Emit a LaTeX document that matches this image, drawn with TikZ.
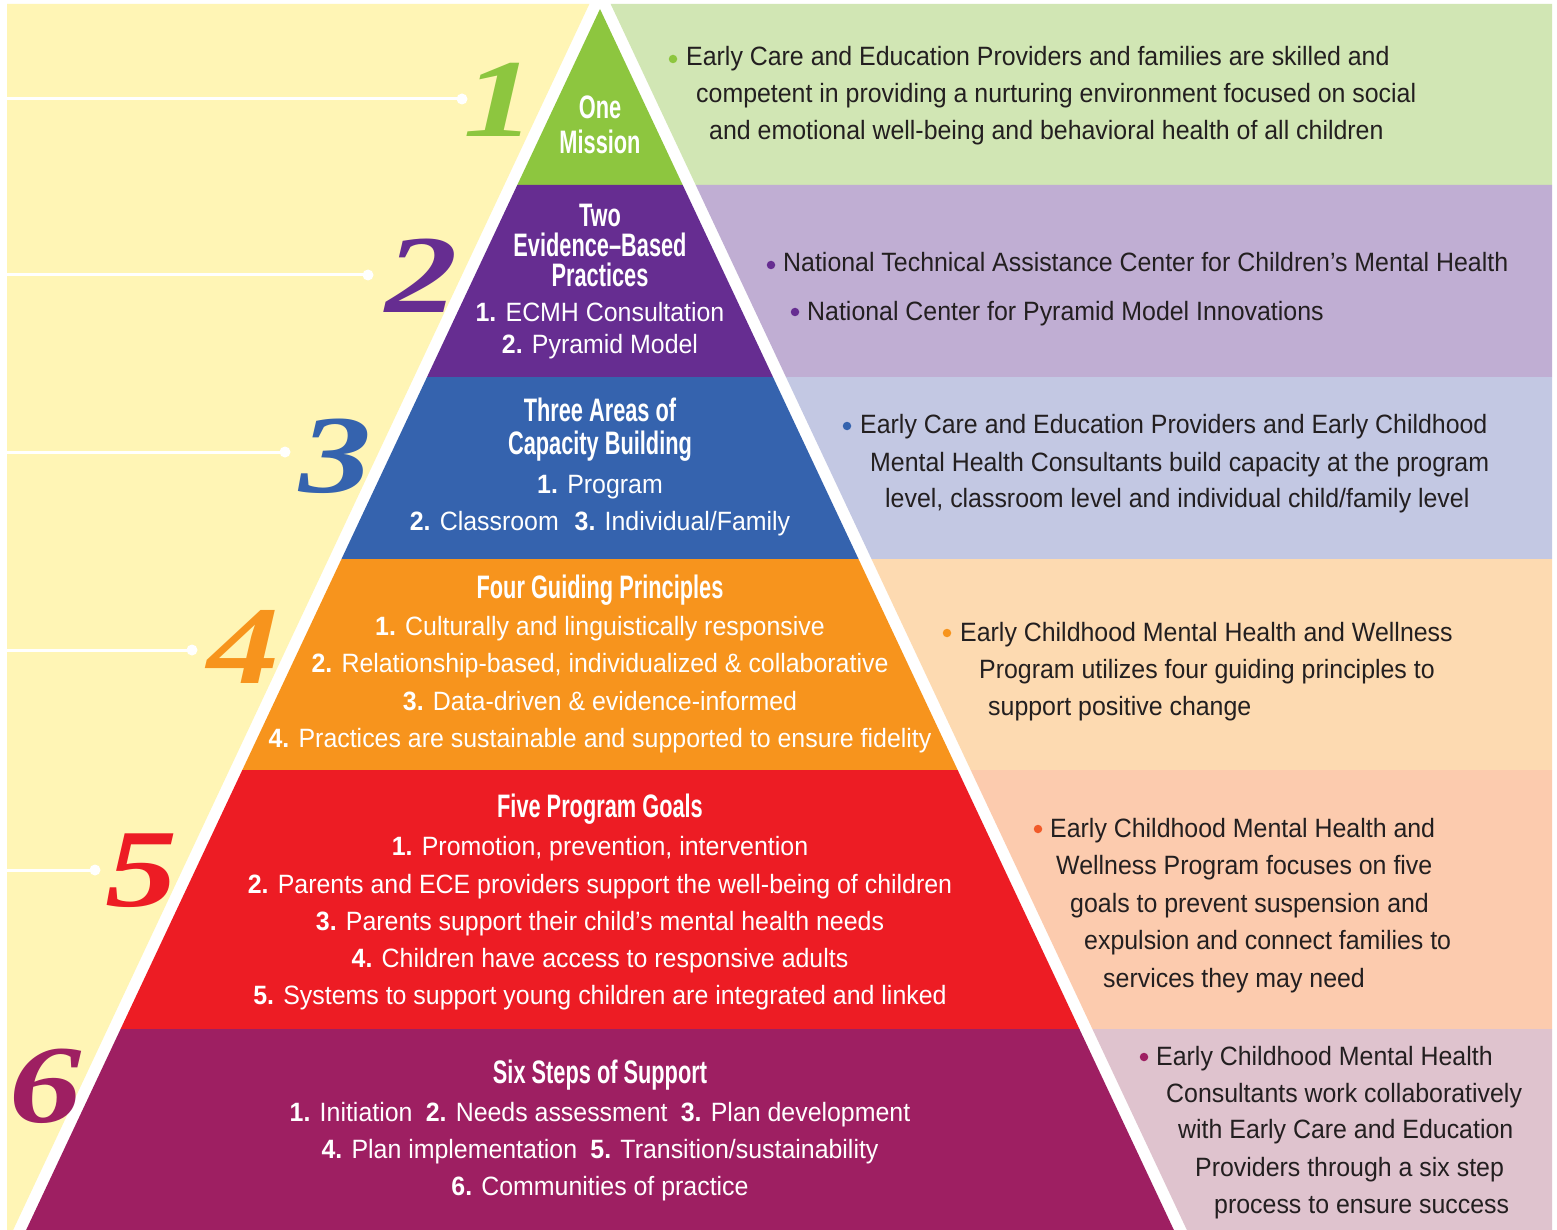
\documentclass[tikz,border=0pt]{standalone}
\usepackage{fontspec}
\setmainfont{Liberation Sans}
\newfontfamily\bodyf{Liberation Sans}[FakeStretch=0.94]
\newfontfamily\headf{Liberation Sans}[FakeStretch=0.67]
\newfontfamily\numf{Liberation Serif}
\definecolor{cgreen}{HTML}{8DC63F}
\definecolor{lgreen}{HTML}{D1E6B4}
\definecolor{cpurple}{HTML}{662D91}
\definecolor{lpurple}{HTML}{C0AED3}
\definecolor{cblue}{HTML}{3563AE}
\definecolor{lblue}{HTML}{C3C8E3}
\definecolor{corange}{HTML}{F7941D}
\definecolor{lorange}{HTML}{FDDAB1}
\definecolor{cred}{HTML}{ED1C24}
\definecolor{lred}{HTML}{FCCBAE}
\definecolor{cmag}{HTML}{9E1F62}
\definecolor{lmag}{HTML}{DFC3CE}
\definecolor{cyellow}{HTML}{FFF5B5}
\definecolor{txt}{HTML}{231F20}
\definecolor{cbul}{HTML}{F15A29}
\begin{document}
\begin{tikzpicture}[x=1pt,y=-1pt,
  body/.style={font=\bodyf\fontsize{26.5}{30}\selectfont, inner sep=0pt, anchor=base},
  wbody/.style={body, text=white},
  head/.style={font=\headf\bfseries\fontsize{32.5}{34}\selectfont, text=white, inner sep=0pt, anchor=base},
  rtext/.style={body, anchor=base west, text=txt},
  numeral/.style={font=\numf\bfseries\itshape\fontsize{111}{111}\selectfont, inner sep=0pt},
  wline/.style={white, line width=3pt},
  wdot/.style={circle, fill=white, inner sep=0pt, minimum size=11pt},
  bullet/.style={circle, inner sep=0pt, minimum size=8.5pt}]
\useasboundingbox (0,0) rectangle (1557,1230);
\fill[white] (0,0) rectangle (1557,1230);
\foreach \y in {4,9,185,377,559,770,1029,1230}{
  \coordinate (L\y) at ({600-0.47*(\y-9)},\y);
  \coordinate (R\y) at ({600+0.47*(\y-9)},\y);
  \coordinate (YL\y) at ({587-0.47*(\y-9)},\y);
  \coordinate (BR\y) at ({613+0.47*(\y-9)},\y);
}
% yellow left panel
\fill[cyellow] (7,4) -- (YL4) -- (YL1230) -- (7,1230) -- cycle;
% right boxes
\fill[lgreen] (BR4) -- (1552,4) -- (1552,185) -- (BR185) -- cycle;
\fill[lpurple] (BR185) -- (1552,185) -- (1552,377) -- (BR377) -- cycle;
\fill[lblue] (BR377) -- (1552,377) -- (1552,559) -- (BR559) -- cycle;
\fill[lorange] (BR559) -- (1552,559) -- (1552,770) -- (BR770) -- cycle;
\fill[lred] (BR770) -- (1552,770) -- (1552,1029) -- (BR1029) -- cycle;
\fill[lmag] (BR1029) -- (1552,1029) -- (1552,1230) -- (BR1230) -- cycle;
% pyramid tiers
\fill[cgreen] (600,9) -- (R185) -- (L185) -- cycle;
\fill[cpurple] (L185) -- (R185) -- (R377) -- (L377) -- cycle;
\fill[cblue] (L377) -- (R377) -- (R559) -- (L559) -- cycle;
\fill[corange] (L559) -- (R559) -- (R770) -- (L770) -- cycle;
\fill[cred] (L770) -- (R770) -- (R1029) -- (L1029) -- cycle;
\fill[cmag] (L1029) -- (R1029) -- (R1230) -- (L1230) -- cycle;
% leader lines
\coordinate (s1) at (7,99);  \node[wdot] (d1) at (462,99) {};
\coordinate (s2) at (7,275); \node[wdot] (d2) at (368,275) {};
\coordinate (s3) at (7,452); \node[wdot] (d3) at (285,452) {};
\coordinate (s4) at (7,650); \node[wdot] (d4) at (192,650) {};
\coordinate (s5) at (7,870); \node[wdot] (d5) at (95,870) {};
\foreach \i in {1,...,5}{\draw[wline] (s\i) -- (d\i.center);}
% numerals
\node[numeral, text=cgreen] (n1) at (500,100) {\scalebox{1.3}[1]{1}};
\node[numeral, text=cpurple] (n2) at (422,276) {\scalebox{1.3}[1]{2}};
\node[numeral, text=cblue] (n3) at (336,456) {\scalebox{1.3}[1]{3}};
\node[numeral, text=corange] (n4) at (244,647) {\scalebox{1.3}[1]{4}};
\node[numeral, text=cred] (n5) at (142,871) {\scalebox{1.3}[1]{5}};
\node[numeral, text=cmag] (n6) at (46,1086) {\scalebox{1.3}[1]{6}};
% tier 1
\node[head] (h1a) at (600,119) {One};
\node[head] (h1b) at (600,154) {Mission};
% tier 2
\node[head] (h2a) at (600,227) {Two};
\node[head] (h2b) at (600,257) {Evidence–Based};
\node[head] (h2c) at (600,287) {Practices};
\node[wbody] (p2a) at (600,322) {\textbf{1.} ECMH Consultation};
\node[wbody] (p2b) at (600,353) {\textbf{2.} Pyramid Model};
% tier 3
\node[head] (h3a) at (600,421) {Three Areas of};
\node[head] (h3b) at (600,454) {Capacity Building};
\node[wbody] (p3a) at (600,493) {\textbf{1.} Program};
\node[wbody] (p3b) at (600,530) {\textbf{2.} Classroom\hspace{0.6em}\textbf{3.} Individual/Family};
% tier 4
\node[head] (h4) at (600,598) {Four Guiding Principles};
\node[wbody] (p4a) at (600,635) {\textbf{1.} Culturally and linguistically responsive};
\node[wbody] (p4b) at (600,672) {\textbf{2.} Relationship-based, individualized \& collaborative};
\node[wbody] (p4c) at (600,710) {\textbf{3.} Data-driven \& evidence-informed};
\node[wbody] (p4d) at (600,747) {\textbf{4.} Practices are sustainable and supported to ensure fidelity};
% tier 5
\node[head] (h5) at (600,817) {Five Program Goals};
\node[wbody] (p5a) at (600,855) {\textbf{1.} Promotion, prevention, intervention};
\node[wbody] (p5b) at (600,893) {\textbf{2.} Parents and ECE providers support the well-being of children};
\node[wbody] (p5c) at (600,930) {\textbf{3.} Parents support their child’s mental health needs};
\node[wbody] (p5d) at (600,967) {\textbf{4.} Children have access to responsive adults};
\node[wbody] (p5e) at (600,1004) {\textbf{5.} Systems to support young children are integrated and linked};
% tier 6
\node[head] (h6) at (600,1083) {Six Steps of Support};
\node[wbody] (p6a) at (600,1121) {\textbf{1.} Initiation\hspace{0.5em}\textbf{2.} Needs assessment\hspace{0.5em}\textbf{3.} Plan development};
\node[wbody] (p6b) at (600,1158) {\textbf{4.} Plan implementation\hspace{0.5em}\textbf{5.} Transition/sustainability};
\node[wbody] (p6c) at (600,1195) {\textbf{6.} Communities of practice};
% right box 1
\node[bullet, fill=cgreen] (b1) at (673,59) {};
\node[rtext] (r1a) at (686,66) {Early Care and Education Providers and families are skilled and};
\node[rtext] (r1b) at (696,103) {competent in providing a nurturing environment focused on social};
\node[rtext] (r1c) at (709,140) {and emotional well-being and behavioral health of all children};
% right box 2
\node[bullet, fill=cpurple] (b2a) at (771,265) {};
\node[rtext] (r2a) at (783,272) {National Technical Assistance Center for Children’s Mental Health};
\node[bullet, fill=cpurple] (b2b) at (795,312) {};
\node[rtext] (r2b) at (807,320) {National Center for Pyramid Model Innovations};
% right box 3
\node[bullet, fill=cblue] (b3) at (847,426) {};
\node[rtext] (r3a) at (860,433) {Early Care and Education Providers and Early Childhood};
\node[rtext] (r3b) at (870,471) {Mental Health Consultants build capacity at the program};
\node[rtext] (r3c) at (885,507) {level, classroom level and individual child/family level};
% right box 4
\node[bullet, fill=corange] (b4) at (947,633) {};
\node[rtext] (r4a) at (960,641) {Early Childhood Mental Health and Wellness};
\node[rtext] (r4b) at (979,678) {Program utilizes four guiding principles to};
\node[rtext] (r4c) at (988,715) {support positive change};
% right box 5
\node[bullet, fill=cbul] (b5) at (1038,829) {};
\node[rtext] (r5a) at (1050,837) {Early Childhood Mental Health and};
\node[rtext] (r5b) at (1056,874) {Wellness Program focuses on five};
\node[rtext] (r5c) at (1070,912) {goals to prevent suspension and};
\node[rtext] (r5d) at (1084,949) {expulsion and connect families to};
\node[rtext] (r5e) at (1103,987) {services they may need};
% right box 6
\node[bullet, fill=cmag] (b6) at (1144,1057) {};
\node[rtext] (r6a) at (1156,1065) {Early Childhood Mental Health};
\node[rtext] (r6b) at (1166,1102) {Consultants work collaboratively};
\node[rtext] (r6c) at (1178,1138) {with Early Care and Education};
\node[rtext] (r6d) at (1195,1176) {Providers through a six step};
\node[rtext] (r6e) at (1214,1213) {process to ensure success};
\end{tikzpicture}
\end{document}
